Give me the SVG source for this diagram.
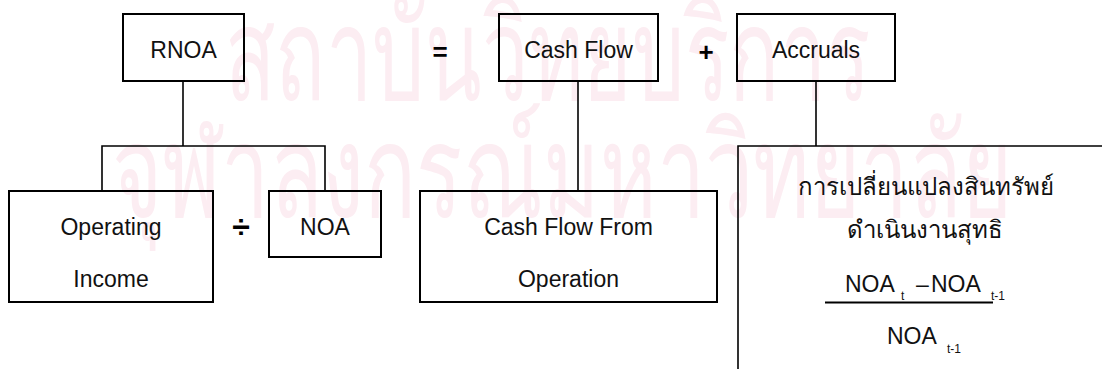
<svg xmlns="http://www.w3.org/2000/svg" width="1102" height="369" viewBox="0 0 1102 369">
  <style>
    .box { fill: none; stroke: #000; stroke-width: 2; }
    .wire { fill: none; stroke: #000; stroke-width: 1.6; }
    .lbl { font-family: "Liberation Sans", Arial, sans-serif; font-size: 23px; fill: #111; text-anchor: middle; }
    .lft { font-family: "Liberation Sans", Arial, sans-serif; font-size: 23px; fill: #111; }
    .op { font-family: "Liberation Sans", Arial, sans-serif; font-size: 26px; font-weight: bold; fill: #000; text-anchor: middle; }
    .th { font-family: "Liberation Sans", "Noto Sans", sans-serif; font-size: 24px; fill: #111; text-anchor: middle; }
    .sub { font-family: "Liberation Sans", Arial, sans-serif; font-size: 12px; fill: #111; }
    .mark { font-family: "Noto Sans", "DejaVu Sans", sans-serif; font-size: 130px; fill: #fcedf2; }
  </style>

  <rect width="1102" height="369" fill="#fff"/>

  <!-- faint background stamp -->
  <g id="stamp">
    <text class="mark" x="225" y="100" textLength="646" lengthAdjust="spacingAndGlyphs">สถาบันวิทยบริการ</text>
    <text class="mark" x="112" y="217" textLength="900" lengthAdjust="spacingAndGlyphs">จุฬาลงกรณ์มหาวิทยาลัย</text>
  </g>

  <!-- connectors -->
  <g id="connectors">
    <polyline class="wire" points="183,81 183,146"/>
    <polyline class="wire" points="102,191 102,146 325,146 325,191"/>
    <polyline class="wire" points="578,81 578,191"/>
    <polyline class="wire" points="816,81 816,146"/>
    <polyline class="wire" points="1102,146 738,146 738,369"/>
  </g>

  <!-- operators -->
  <g id="operators">
    <text class="op" x="440" y="61">=</text>
    <text class="op" x="706" y="61">+</text>
    <text class="op" x="241" y="238" style="font-size:32px">÷</text>
  </g>

  <g id="rnoa">
    <rect class="box" x="123" y="14" width="121" height="67"/>
    <text class="lbl" x="183.5" y="58">RNOA</text>
  </g>

  <g id="cash-flow">
    <rect class="box" x="499" y="14" width="159" height="67"/>
    <text class="lbl" x="578.5" y="58">Cash Flow</text>
  </g>

  <g id="accruals">
    <rect class="box" x="737" y="14" width="158" height="67"/>
    <text class="lbl" x="816" y="58">Accruals</text>
  </g>

  <g id="operating-income">
    <rect class="box" x="9" y="191" width="204" height="111"/>
    <text class="lbl" x="111" y="235">Operating</text>
    <text class="lbl" x="111" y="287">Income</text>
  </g>

  <g id="noa">
    <rect class="box" x="269" y="191" width="112" height="66"/>
    <text class="lbl" x="325" y="235">NOA</text>
  </g>

  <g id="cash-flow-operation">
    <rect class="box" x="420" y="191" width="297" height="111"/>
    <text class="lbl" x="568.5" y="235">Cash Flow From</text>
    <text class="lbl" x="568.5" y="287">Operation</text>
  </g>

  <g id="net-operating-assets-change">
    <text class="th" x="926" y="195">การเปลี่ยนแปลงสินทรัพย์</text>
    <text class="th" x="925" y="238">ดำเนินงานสุทธิ</text>
    <!-- (NOA t − NOA t-1) / NOA t-1 -->
    <text class="lft" x="845" y="292">NOA</text>
    <text class="sub" x="901" y="300">t</text>
    <text class="lft" x="916" y="292">–</text>
    <text class="lft" x="931" y="292">NOA</text>
    <text class="sub" x="991" y="300">t-1</text>
    <line x1="825" y1="302.5" x2="993" y2="302.5" stroke="#000" stroke-width="2"/>
    <text class="lft" x="887" y="344">NOA</text>
    <text class="sub" x="947" y="353">t-1</text>
  </g>
</svg>
